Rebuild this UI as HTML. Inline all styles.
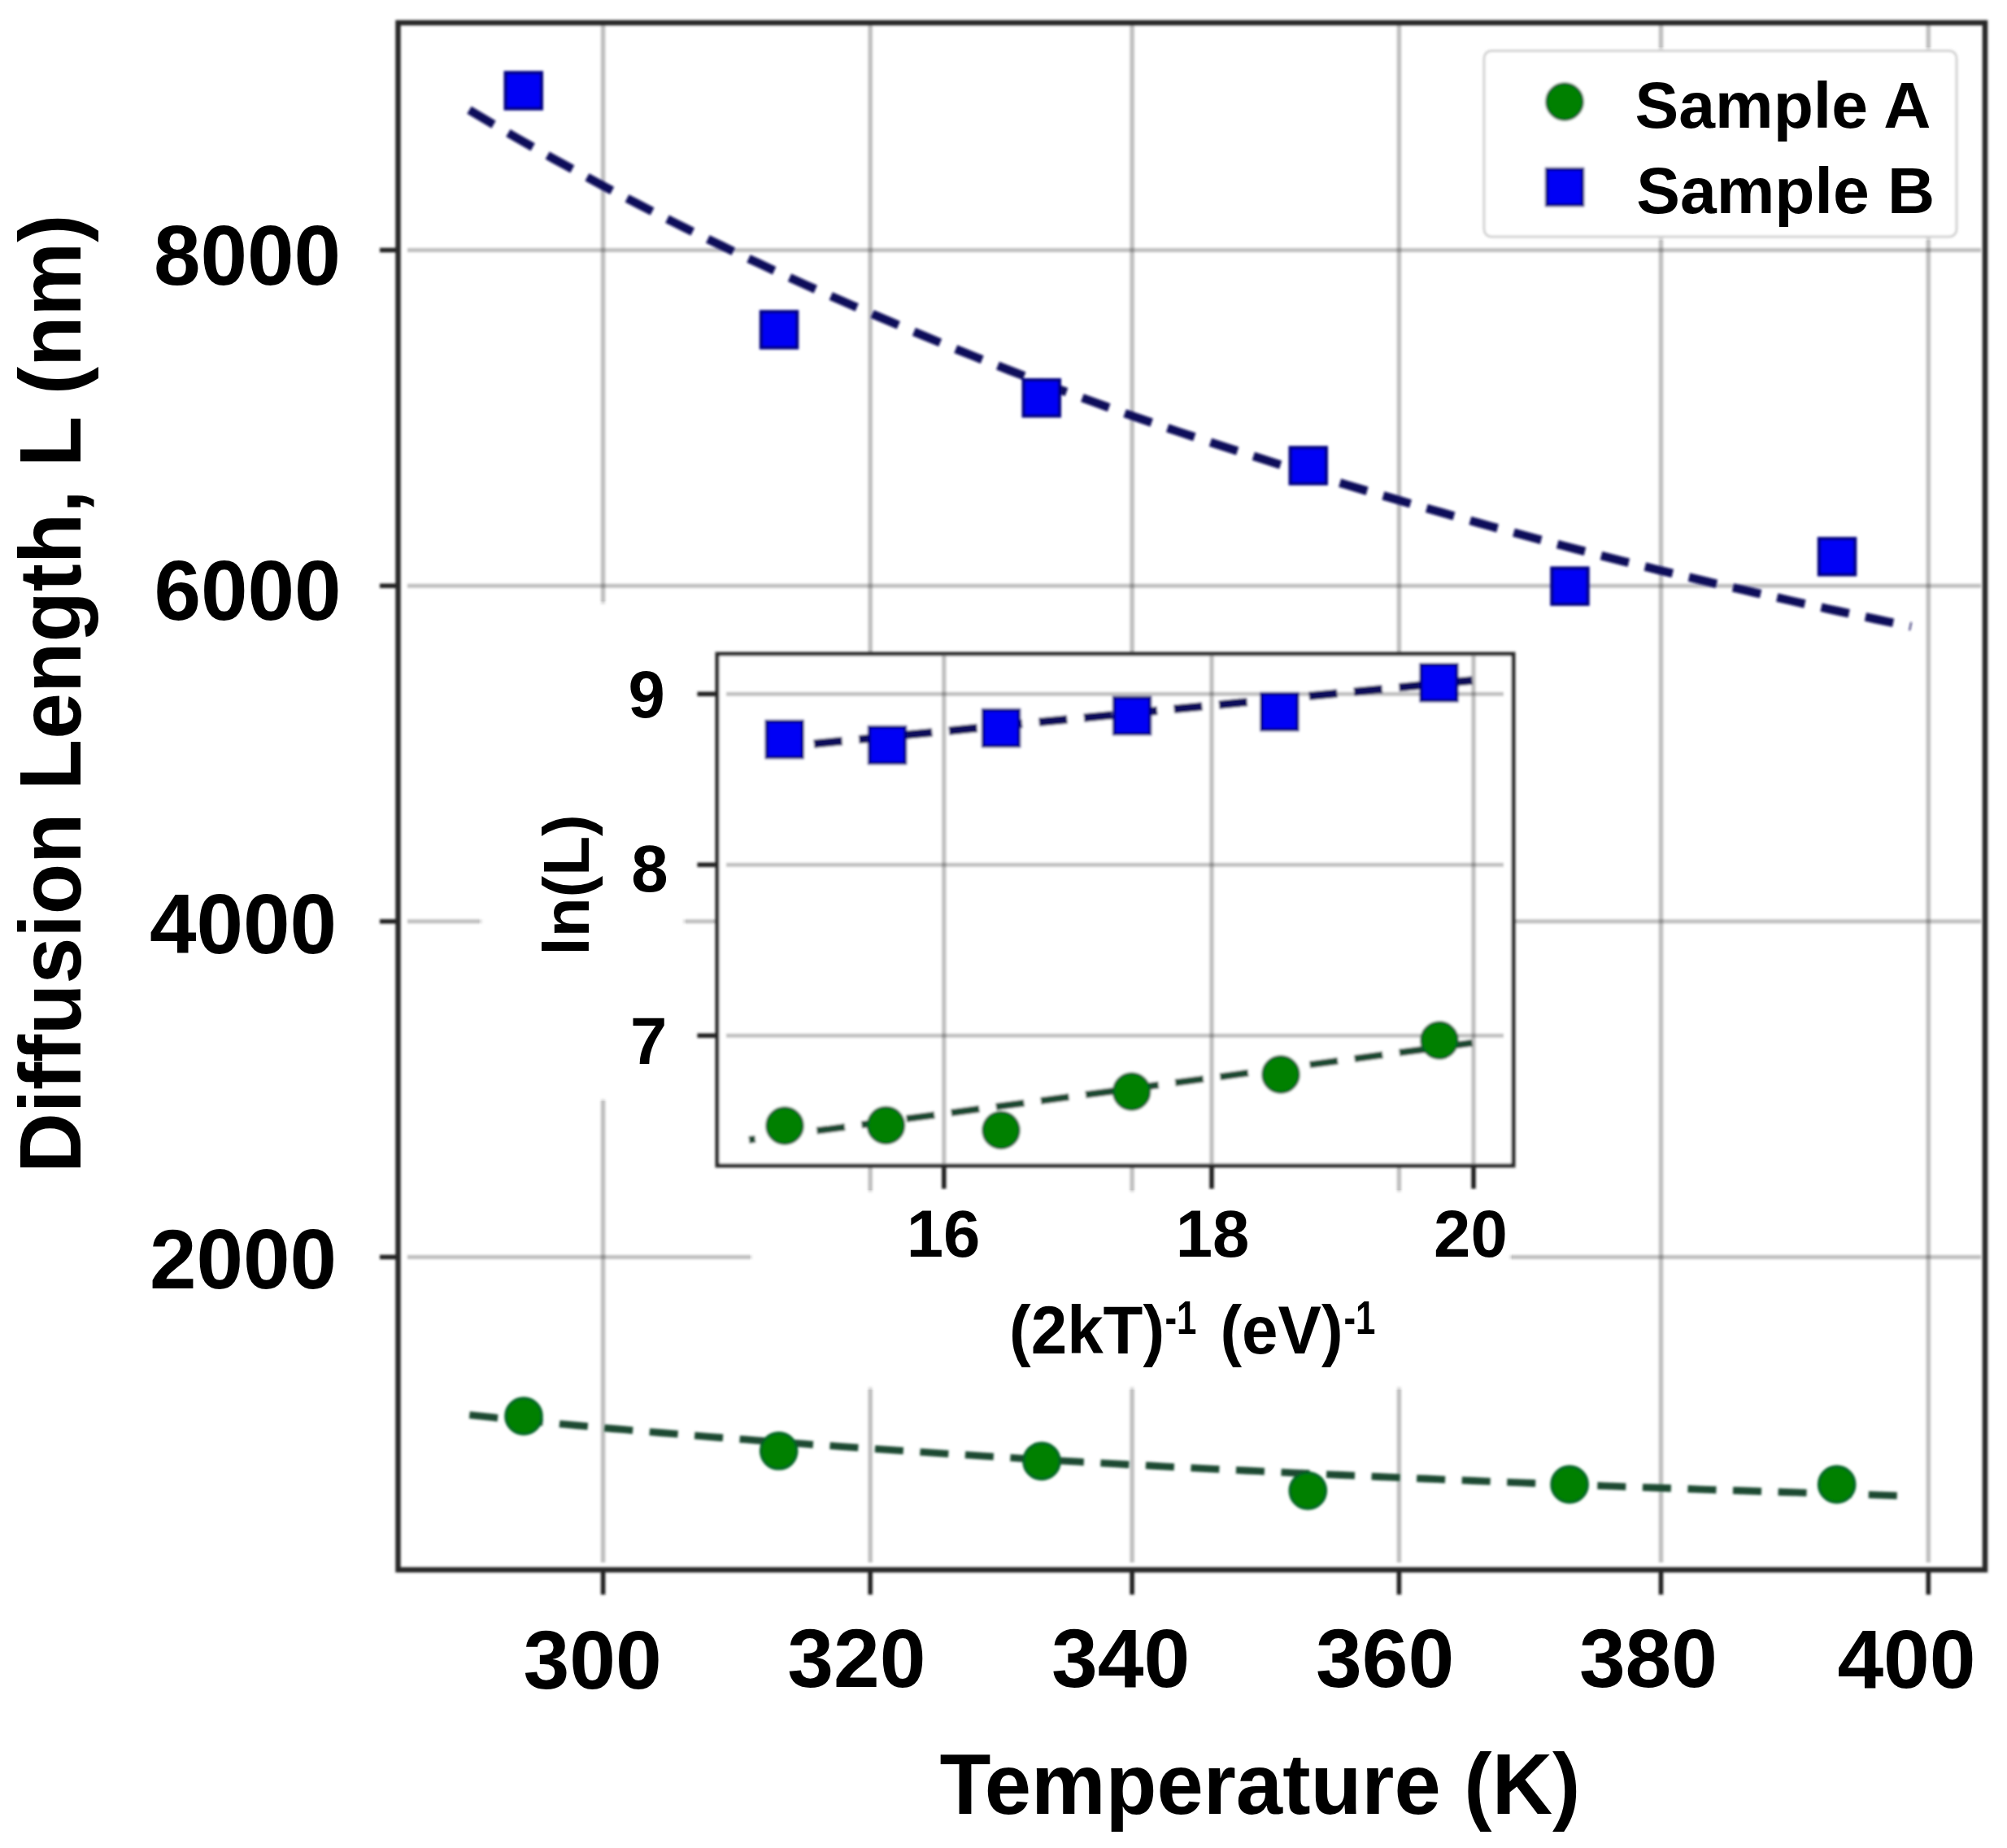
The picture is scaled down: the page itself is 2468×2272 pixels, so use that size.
<!DOCTYPE html><html><head><meta charset="utf-8"><title>Diffusion Length vs Temperature</title>
<style>html,body{margin:0;padding:0;background:#fff;}svg{display:block;}text{font-family:"Liberation Sans",Arial,sans-serif;font-weight:bold;fill:#000;}</style></head><body>
<svg width="2468" height="2272" viewBox="0 0 2468 2272">
<defs><filter id="soft" x="0" y="0" width="2468" height="2272" filterUnits="userSpaceOnUse"><feGaussianBlur stdDeviation="1.60"/></filter></defs>
<rect x="0" y="0" width="2468" height="2272" fill="#ffffff"/>
<g filter="url(#soft)">
<g stroke="#000" stroke-opacity="0.25">
<line x1="741.6" y1="31" x2="741.6" y2="1921" stroke-width="5.5"/>
<line x1="1070.2" y1="31" x2="1070.2" y2="1921" stroke-width="5.5"/>
<line x1="1392.1" y1="31" x2="1392.1" y2="1921" stroke-width="5.5"/>
<line x1="1720.4" y1="31" x2="1720.4" y2="1921" stroke-width="5.5"/>
<line x1="2042.5" y1="31" x2="2042.5" y2="1921" stroke-width="5.5"/>
<line x1="2371.3" y1="31" x2="2371.3" y2="1921" stroke-width="5.5"/>
<line x1="501" y1="307.5" x2="2436" y2="307.5" stroke-width="5"/>
<line x1="501" y1="720.2" x2="2436" y2="720.2" stroke-width="5"/>
<line x1="501" y1="1132.8" x2="2436" y2="1132.8" stroke-width="5"/>
<line x1="501" y1="1545.5" x2="2436" y2="1545.5" stroke-width="5"/>
</g>
<line x1="741.6" y1="1930" x2="741.6" y2="1960.5" stroke="#1c1c1c" stroke-width="5.5"/>
<line x1="1070.2" y1="1930" x2="1070.2" y2="1960.5" stroke="#1c1c1c" stroke-width="5.5"/>
<line x1="1392.1" y1="1930" x2="1392.1" y2="1960.5" stroke="#1c1c1c" stroke-width="5.5"/>
<line x1="1720.4" y1="1930" x2="1720.4" y2="1960.5" stroke="#1c1c1c" stroke-width="5.5"/>
<line x1="2042.5" y1="1930" x2="2042.5" y2="1960.5" stroke="#1c1c1c" stroke-width="5.5"/>
<line x1="2371.3" y1="1930" x2="2371.3" y2="1960.5" stroke="#1c1c1c" stroke-width="5.5"/>
<line x1="467" y1="307.5" x2="490" y2="307.5" stroke="#1c1c1c" stroke-width="5.5"/>
<line x1="467" y1="720.2" x2="490" y2="720.2" stroke="#1c1c1c" stroke-width="5.5"/>
<line x1="467" y1="1132.8" x2="490" y2="1132.8" stroke="#1c1c1c" stroke-width="5.5"/>
<line x1="467" y1="1545.5" x2="490" y2="1545.5" stroke="#1c1c1c" stroke-width="5.5"/>
<path d="M577.0 135.2 L591.8 144.1 L606.5 152.8 L621.3 161.4 L636.1 170.0 L650.9 178.4 L665.6 186.8 L680.4 195.1 L695.2 203.2 L710.0 211.3 L724.8 219.3 L739.5 227.3 L754.3 235.1 L769.1 242.9 L783.9 250.5 L798.6 258.1 L813.4 265.7 L828.2 273.1 L843.0 280.5 L857.7 287.8 L872.5 295.0 L887.3 302.1 L902.0 309.2 L916.8 316.2 L931.6 323.1 L946.4 330.0 L961.1 336.8 L975.9 343.5 L990.7 350.2 L1005.5 356.8 L1020.2 363.3 L1035.0 369.8 L1049.8 376.2 L1064.6 382.5 L1079.3 388.9 L1094.1 395.2 L1108.9 401.5 L1123.7 407.8 L1138.5 413.9 L1153.2 420.0 L1168.0 426.1 L1182.8 432.1 L1197.5 438.0 L1212.3 443.9 L1227.1 449.7 L1241.9 455.5 L1256.7 461.2 L1271.4 466.9 L1286.2 472.5 L1301.0 478.1 L1315.8 483.6 L1330.5 489.0 L1345.3 494.4 L1360.1 499.8 L1374.8 505.1 L1389.6 510.4 L1404.4 515.5 L1419.2 520.6 L1434.0 525.6 L1448.7 530.6 L1463.5 535.5 L1478.3 540.4 L1493.0 545.3 L1507.8 550.1 L1522.6 554.9 L1537.4 559.6 L1552.2 564.3 L1566.9 568.9 L1581.7 573.6 L1596.5 578.1 L1611.2 582.7 L1626.0 587.2 L1640.8 591.6 L1655.6 596.0 L1670.3 600.4 L1685.1 604.8 L1699.9 609.1 L1714.7 613.4 L1729.5 617.7 L1744.2 622.0 L1759.0 626.2 L1773.8 630.4 L1788.5 634.6 L1803.3 638.8 L1818.1 642.9 L1832.9 647.0 L1847.7 651.0 L1862.4 655.0 L1877.2 659.0 L1892.0 663.0 L1906.8 666.9 L1921.5 670.8 L1936.3 674.7 L1951.1 678.5 L1965.8 682.3 L1980.6 686.1 L1995.4 689.8 L2010.2 693.5 L2025.0 697.2 L2039.7 700.8 L2054.5 704.4 L2069.3 707.9 L2084.1 711.4 L2098.8 714.9 L2113.6 718.4 L2128.4 721.8 L2143.2 725.2 L2157.9 728.6 L2172.7 731.9 L2187.5 735.2 L2202.2 738.5 L2217.0 741.8 L2231.8 745.0 L2246.6 748.3 L2261.3 751.5 L2276.1 754.7 L2290.9 757.8 L2305.7 761.0 L2320.4 764.1 L2335.2 767.2 L2350.0 770.2" fill="none" stroke="#110d5a" stroke-width="10.5" stroke-dasharray="35 20.6"/>
<path d="M577.3 1739.7 L592.0 1741.2 L606.7 1742.7 L621.4 1744.2 L636.1 1745.6 L650.8 1747.0 L665.5 1748.4 L680.2 1749.8 L694.9 1751.2 L709.6 1752.5 L724.3 1753.8 L739.0 1755.2 L753.7 1756.5 L768.4 1757.7 L783.1 1759.0 L797.8 1760.3 L812.5 1761.5 L827.2 1762.7 L841.9 1763.9 L856.6 1765.1 L871.2 1766.3 L885.9 1767.5 L900.6 1768.6 L915.3 1769.7 L930.0 1770.9 L944.7 1772.0 L959.4 1773.1 L974.1 1774.2 L988.8 1775.2 L1003.5 1776.3 L1018.2 1777.3 L1032.9 1778.4 L1047.6 1779.4 L1062.3 1780.4 L1077.0 1781.4 L1091.7 1782.4 L1106.4 1783.4 L1121.1 1784.4 L1135.8 1785.4 L1150.5 1786.4 L1165.2 1787.3 L1179.9 1788.3 L1194.6 1789.2 L1209.3 1790.1 L1224.0 1791.0 L1238.7 1791.9 L1253.4 1792.8 L1268.1 1793.7 L1282.8 1794.6 L1297.5 1795.5 L1312.2 1796.3 L1326.9 1797.2 L1341.6 1798.0 L1356.3 1798.8 L1371.0 1799.7 L1385.7 1800.5 L1400.4 1801.3 L1415.1 1802.0 L1429.8 1802.8 L1444.5 1803.6 L1459.2 1804.3 L1473.8 1805.1 L1488.5 1805.8 L1503.2 1806.6 L1517.9 1807.3 L1532.6 1808.0 L1547.3 1808.7 L1562.0 1809.4 L1576.7 1810.1 L1591.4 1810.8 L1606.1 1811.5 L1620.8 1812.2 L1635.5 1812.8 L1650.2 1813.5 L1664.9 1814.2 L1679.6 1814.8 L1694.3 1815.5 L1709.0 1816.1 L1723.7 1816.7 L1738.4 1817.4 L1753.1 1818.0 L1767.8 1818.6 L1782.5 1819.3 L1797.2 1819.9 L1811.9 1820.5 L1826.6 1821.1 L1841.3 1821.7 L1856.0 1822.3 L1870.7 1822.9 L1885.4 1823.5 L1900.1 1824.0 L1914.8 1824.6 L1929.5 1825.2 L1944.2 1825.7 L1958.9 1826.3 L1973.6 1826.8 L1988.3 1827.4 L2003.0 1827.9 L2017.7 1828.5 L2032.4 1829.0 L2047.0 1829.5 L2061.7 1830.0 L2076.4 1830.5 L2091.1 1831.1 L2105.8 1831.6 L2120.5 1832.0 L2135.2 1832.5 L2149.9 1833.0 L2164.6 1833.5 L2179.3 1834.0 L2194.0 1834.5 L2208.7 1834.9 L2223.4 1835.4 L2238.1 1835.9 L2252.8 1836.3 L2267.5 1836.8 L2282.2 1837.2 L2296.9 1837.7 L2311.6 1838.1 L2326.3 1838.6 L2341.0 1839.0" fill="none" stroke="#1a4a30" stroke-width="8.8" stroke-dasharray="35 20.6"/>
<rect x="621.5" y="89.2" width="44.5" height="44.5" fill="#0000f5" stroke="#000080" stroke-width="4"/>
<rect x="935.8" y="383.1" width="44.5" height="44.5" fill="#0000f5" stroke="#000080" stroke-width="4"/>
<rect x="1258.5" y="467.0" width="44.5" height="44.5" fill="#0000f5" stroke="#000080" stroke-width="4"/>
<rect x="1586.5" y="550.2" width="44.5" height="44.5" fill="#0000f5" stroke="#000080" stroke-width="4"/>
<rect x="1908.2" y="698.4" width="44.5" height="44.5" fill="#0000f5" stroke="#000080" stroke-width="4"/>
<rect x="2236.8" y="662.1" width="44.5" height="44.5" fill="#0000f5" stroke="#000080" stroke-width="4"/>
<circle cx="644.0" cy="1741.0" r="22.3" fill="#008000" stroke="#006020" stroke-width="3"/>
<circle cx="957.7" cy="1783.8" r="22.3" fill="#008000" stroke="#006020" stroke-width="3"/>
<circle cx="1281.0" cy="1796.4" r="22.3" fill="#008000" stroke="#006020" stroke-width="3"/>
<circle cx="1608.3" cy="1832.7" r="22.3" fill="#008000" stroke="#006020" stroke-width="3"/>
<circle cx="1930.1" cy="1825.0" r="22.3" fill="#008000" stroke="#006020" stroke-width="3"/>
<circle cx="2258.7" cy="1825.0" r="22.3" fill="#008000" stroke="#006020" stroke-width="3"/>
<rect x="592.5" y="742.6" width="247.8" height="608.4" fill="#fff"/>
<rect x="925" y="1466" width="931" height="239.5" fill="#fff"/>
<rect x="882" y="804" width="979" height="629" fill="#fff"/>
<g stroke="#000" stroke-opacity="0.25">
<line x1="1160.8" y1="807" x2="1160.8" y2="1430" stroke-width="5.5"/>
<line x1="1490.0" y1="807" x2="1490.0" y2="1430" stroke-width="5.5"/>
<line x1="1812.0" y1="807" x2="1812.0" y2="1430" stroke-width="5.5"/>
<line x1="893" y1="853.2" x2="1849" y2="853.2" stroke-width="5"/>
<line x1="893" y1="1063.2" x2="1849" y2="1063.2" stroke-width="5"/>
<line x1="893" y1="1273.2" x2="1849" y2="1273.2" stroke-width="5"/>
</g>
<line x1="1160.8" y1="1433" x2="1160.8" y2="1461.5" stroke="#1c1c1c" stroke-width="5.5"/>
<line x1="1490.0" y1="1433" x2="1490.0" y2="1461.5" stroke="#1c1c1c" stroke-width="5.5"/>
<line x1="1812.0" y1="1433" x2="1812.0" y2="1461.5" stroke="#1c1c1c" stroke-width="5.5"/>
<line x1="857.5" y1="853.2" x2="882" y2="853.2" stroke="#1c1c1c" stroke-width="5.5"/>
<line x1="857.5" y1="1063.2" x2="882" y2="1063.2" stroke="#1c1c1c" stroke-width="5.5"/>
<line x1="857.5" y1="1273.2" x2="882" y2="1273.2" stroke="#1c1c1c" stroke-width="5.5"/>
<path d="M1812.0 836.3 L936.0 920.7" fill="none" stroke="#110d5a" stroke-width="10.5" stroke-dasharray="35 20.6" stroke-dashoffset="-1.5"/>
<path d="M1812.0 1282.0 L921.0 1401.4" fill="none" stroke="#1a4a30" stroke-width="8.8" stroke-dasharray="35 20.6" stroke-dashoffset="-1.5"/>
<rect x="942.5" y="886.8" width="44.5" height="44.5" fill="#0000f5" stroke="#000080" stroke-width="4"/>
<rect x="1068.8" y="893.8" width="44.5" height="44.5" fill="#0000f5" stroke="#000080" stroke-width="4"/>
<rect x="1208.8" y="872.8" width="44.5" height="44.5" fill="#0000f5" stroke="#000080" stroke-width="4"/>
<rect x="1369.8" y="857.8" width="44.5" height="44.5" fill="#0000f5" stroke="#000080" stroke-width="4"/>
<rect x="1551.2" y="852.8" width="44.5" height="44.5" fill="#0000f5" stroke="#000080" stroke-width="4"/>
<rect x="1747.2" y="817.0" width="44.5" height="44.5" fill="#0000f5" stroke="#000080" stroke-width="4"/>
<circle cx="965.0" cy="1384.0" r="22.3" fill="#008000" stroke="#006020" stroke-width="3"/>
<circle cx="1089.5" cy="1383.5" r="22.3" fill="#008000" stroke="#006020" stroke-width="3"/>
<circle cx="1231.0" cy="1389.5" r="22.3" fill="#008000" stroke="#006020" stroke-width="3"/>
<circle cx="1391.6" cy="1342.0" r="22.3" fill="#008000" stroke="#006020" stroke-width="3"/>
<circle cx="1575.0" cy="1321.0" r="22.3" fill="#008000" stroke="#006020" stroke-width="3"/>
<circle cx="1770.0" cy="1279.0" r="22.3" fill="#008000" stroke="#006020" stroke-width="3"/>
<rect x="882" y="804" width="979" height="629" fill="none" stroke="#282828" stroke-width="5"/>
<rect x="489.5" y="28" width="1951.5" height="1902" fill="none" stroke="#282828" stroke-width="6.5"/>
<rect x="1825" y="62.5" width="581" height="228.5" rx="9" fill="#fff" stroke="#d0d0d0" stroke-width="3"/>
<circle cx="1924.0" cy="125.0" r="22.3" fill="#008000" stroke="#006020" stroke-width="3"/>
<rect x="1901.8" y="207.8" width="44.5" height="44.5" fill="#0000f5" stroke="#000080" stroke-width="4"/>
</g>
<text x="2010.6" y="157.3" font-size="80.5">Sample A</text>
<text x="2012.3" y="261.9" font-size="80.5">Sample B</text>
<text x="188.9" y="350.0" font-size="103.5">8000</text>
<text x="189.4" y="762.0" font-size="103.5">6000</text>
<text x="183.9" y="1171.5" font-size="103.5">4000</text>
<text x="183.9" y="1584.0" font-size="103.5">2000</text>
<text x="643.5" y="2075.7" font-size="102.0">300</text>
<text x="968.2" y="2074.0" font-size="102.0">320</text>
<text x="1293.0" y="2074.0" font-size="102.0">340</text>
<text x="1618.0" y="2074.0" font-size="102.0">360</text>
<text x="1941.9" y="2074.0" font-size="102.0">380</text>
<text x="2259.4" y="2075.0" font-size="102.0">400</text>
<text x="0" y="0" font-size="103.03" transform="translate(1155.4 2230) scale(1 1.035)">Temperature (K)</text>
<text x="0" y="0" font-size="102.16" transform="translate(98.5 1442.1) rotate(-90) scale(1 1.054)">Diffusion Length, L (nm)</text>
<text x="772.4" y="881.6" font-size="81.5">9</text>
<text x="776.2" y="1095.7" font-size="81.5">8</text>
<text x="774.9" y="1307.8" font-size="81.5">7</text>
<text x="1114.7" y="1545.2" font-size="81.5">16</text>
<text x="1445.7" y="1545.2" font-size="81.5">18</text>
<text x="1763.1" y="1545.2" font-size="81.5">20</text>
<text x="0" y="0" font-size="80.0" transform="translate(723.6 1174.6) rotate(-90)">ln(L)</text>
<text x="0" y="0" font-size="80.0" transform="translate(1241.0 1663.5) scale(1 1.035)">(2kT)</text>
<text x="1432.5" y="1639.5" font-size="58" textLength="39" lengthAdjust="spacingAndGlyphs">-1</text>
<text x="0" y="0" font-size="80.0" transform="translate(1500.4 1663.5) scale(1 1.035)">(eV)</text>
<text x="1652.5" y="1639.5" font-size="58" textLength="39" lengthAdjust="spacingAndGlyphs">-1</text>
</svg></body></html>
